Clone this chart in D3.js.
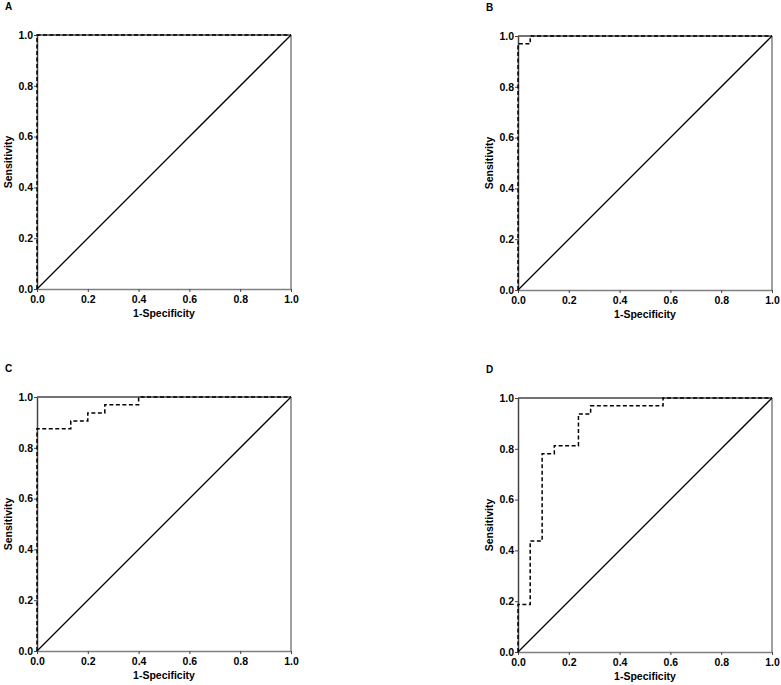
<!DOCTYPE html>
<html>
<head>
<meta charset="utf-8">
<script src="https://cdn.jsdelivr.net/npm/d3@7"></script>
<style>
  body { margin: 0; background: #fff; }
  text { font-family: "Liberation Sans", Arial, sans-serif; font-weight: bold; }
</style>
</head>
<body>
<svg id="chart"></svg>
<script>
const ticks = [0, 0.2, 0.4, 0.6, 0.8, 1.0];
const panelLabels = ["A", "B", "C", "D"];

// ROC step points (1-specificity, sensitivity)
const rocA_x = [0, 0, 1];
const rocA_y = [0, 1, 1];

const rocB_x = [0, 0, 0.048, 0.048, 1];
const rocB_y = [0, 0.969, 0.969, 1, 1];

const rocC_x = [0, 0, 0.133, 0.133, 0.2, 0.2, 0.267, 0.267, 0.4, 0.4, 1];
const rocC_y = [0, 0.875, 0.875, 0.906, 0.906, 0.9375, 0.9375, 0.969, 0.969, 1, 1];

const rocD_x = [0, 0, 0.048, 0.048, 0.095, 0.095, 0.143, 0.143, 0.238, 0.238, 0.286, 0.286, 0.571, 0.571, 1];
const rocD_y = [0, 0.1875, 0.1875, 0.4375, 0.4375, 0.781, 0.781, 0.8125, 0.8125, 0.9375, 0.9375, 0.969, 0.969, 1, 1];

const curves = [[rocA_x, rocA_y], [rocB_x, rocB_y], [rocC_x, rocC_y], [rocD_x, rocD_y]];

const width = 781, height = 685;
const plotW = 254, plotH = 254;
const origins = [[37, 35], [518, 36], [37, 397], [518, 398]];

const svg = d3.select("#chart")
              .attr("width", width)
              .attr("height", height);

curves.forEach((c, i) => {
    const [ox, oy] = origins[i];
    const g = svg.append("g").attr("transform", `translate(${ox},${oy})`);

    const x = d3.scaleLinear().domain([0, 1]).range([0, plotW]);
    const y = d3.scaleLinear().domain([0, 1]).range([plotH, 0]);

    // frame
    g.append("line").attr("x1", plotW).attr("x2", plotW).attr("y1", 0).attr("y2", plotH)
     .attr("stroke", "#808080").attr("stroke-width", 1.5);
    g.append("line").attr("x1", 0).attr("x2", plotW).attr("y1", 0).attr("y2", 0)
     .attr("stroke", "#444").attr("stroke-width", 1.5);

    const xAxis = g.append("g")
                   .attr("transform", `translate(0,${plotH})`)
                   .call(d3.axisBottom(x).tickValues(ticks).tickFormat(d3.format(".1f")).tickSize(3).tickSizeOuter(0));
    const yAxis = g.append("g")
                   .call(d3.axisLeft(y).tickValues(ticks).tickFormat(d3.format(".1f")).tickSize(3).tickSizeOuter(0));

    xAxis.select(".domain").attr("stroke", "#808080").attr("stroke-width", 1.5);
    yAxis.select(".domain").attr("stroke", "#444").attr("stroke-width", 1.5);
    xAxis.selectAll(".tick line").attr("stroke", "#444");
    yAxis.selectAll(".tick line").attr("stroke", "#444");
    xAxis.selectAll("text").attr("font-size", 10.5).attr("fill", "#000").attr("dy", "0.75em").attr("y", 6);
    yAxis.selectAll("text").attr("font-size", 10.5).attr("fill", "#000").attr("x", -4);

    // reference diagonal
    g.append("line")
     .attr("x1", x(0)).attr("y1", y(0))
     .attr("x2", x(1)).attr("y2", y(1))
     .attr("stroke", "#000").attr("stroke-width", 1.3);

    // ROC curve
    const pts = c[0].map((v, k) => [v, c[1][k]]);
    g.append("path")
     .datum(pts)
     .attr("d", d3.line().x(d => x(d[0])).y(d => y(d[1])))
     .attr("fill", "none")
     .attr("stroke", "#000")
     .attr("stroke-width", 1.5)
     .attr("stroke-dasharray", "4,2.5");

    g.append("text")
     .attr("x", plotW / 2).attr("y", plotH + 28)
     .attr("text-anchor", "middle").attr("font-size", 10.5)
     .text("1-Specificity");

    g.append("text")
     .attr("transform", `translate(${-25},${plotH / 2}) rotate(-90)`)
     .attr("text-anchor", "middle").attr("font-size", 10.5)
     .text("Sensitivity");

    g.append("text")
     .attr("x", -32).attr("y", -25)
     .attr("font-size", 10)
     .text(panelLabels[i]);
});
</script>
</body>
</html>
